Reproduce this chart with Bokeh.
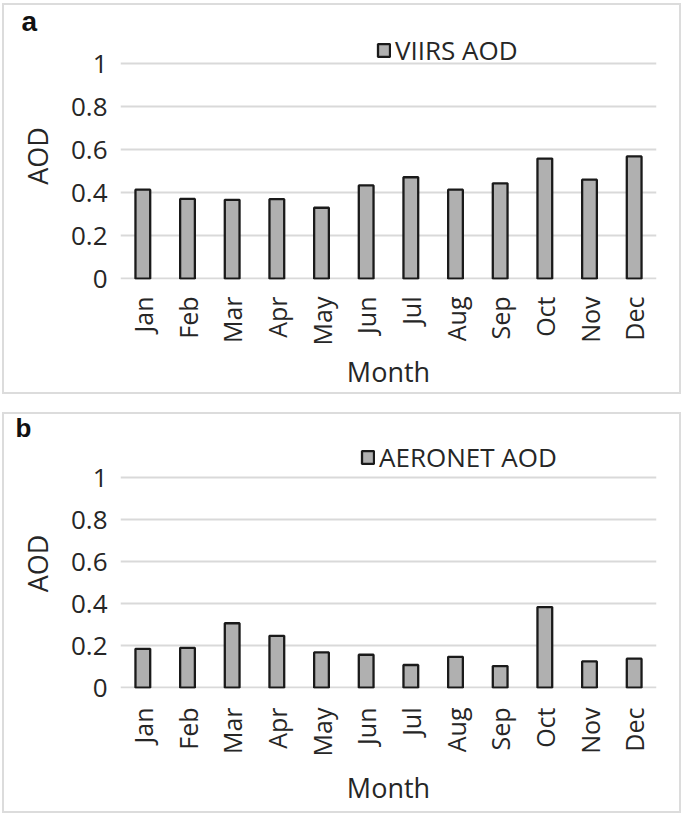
import math
from bokeh.plotting import figure
from bokeh.layouts import column
from bokeh.models import (ColumnDataSource, FactorRange, Range1d, FixedTicker,
                          Legend, LegendItem)
from bokeh.embed import file_html
from bokeh.resources import INLINE

months = ["Jan", "Feb", "Mar", "Apr", "May", "Jun", "Jul", "Aug", "Sep", "Oct", "Nov", "Dec"]
viirs_aod = [0.414, 0.371, 0.367, 0.370, 0.330, 0.434, 0.472, 0.414, 0.444, 0.559, 0.461, 0.569]
aeronet_aod = [0.185, 0.190, 0.307, 0.247, 0.168, 0.157, 0.108, 0.147, 0.103, 0.384, 0.125, 0.138]
y_ticks = [0, 0.2, 0.4, 0.6, 0.8, 1.0]
y_tick_labels = ["0", "0.2", "0.4", "0.6", "0.8", "1"]

FONT = "Open Sans"
TXT = "#262626"
GRID = "#d9d9d9"
BAR_FILL = "#b0b0b0"
BAR_LINE = "#1a1a1a"


def make_panel(values, series_name, letter, h, top, bottom, y_end, title_offset,
               title_standoff, title_size, leg_x, leg_y, x_standoff, xlabel_standoff):
    src = ColumnDataSource(dict(month=months, aod=values))
    p = figure(width=679, height=h, x_range=FactorRange(*months, range_padding=0),
               y_range=Range1d(-0.004, y_end), output_backend="svg",
               toolbar_location=None, tools="",
               min_border_left=116, min_border_right=27, min_border_top=top,
               min_border_bottom=bottom,
               styles={"border": "2px solid #dcdcdc", "box-sizing": "border-box"})
    r = p.vbar(x="month", top="aod", bottom=0, width=0.33, source=src,
               fill_color=BAR_FILL, line_color=BAR_LINE, line_width=2.3)
    p.title.text = letter
    p.title.align = "left"
    p.title.offset = title_offset
    p.title.text_font = "Liberation Sans"
    p.title.text_font_style = "bold"
    p.title.text_font_size = title_size
    p.title.text_color = "#111111"
    p.title.standoff = title_standoff
    p.outline_line_color = None
    p.background_fill_color = "white"
    p.border_fill_color = "white"
    p.xgrid.grid_line_color = None
    p.ygrid.grid_line_color = GRID
    p.ygrid.grid_line_width = 2
    p.yaxis.ticker = FixedTicker(ticks=y_ticks)
    p.yaxis.major_label_overrides = {t: l for t, l in zip(y_ticks, y_tick_labels)}
    for ax in (p.xaxis[0], p.yaxis[0]):
        ax.axis_line_color = None
        ax.major_tick_line_color = None
        ax.minor_tick_line_color = None
        ax.major_tick_out = 0
        ax.major_tick_in = 0
        ax.major_label_text_font = FONT
        ax.major_label_text_color = TXT
        ax.axis_label_text_font = FONT
        ax.axis_label_text_color = TXT
        ax.axis_label_text_font_style = "normal"
    p.yaxis.major_label_text_font_size = "26px"
    p.yaxis.major_label_standoff = 13
    p.yaxis.axis_label = "AOD"
    p.yaxis.axis_label_text_font_size = "27px"
    p.yaxis.axis_label_standoff = 12
    p.xaxis.major_label_orientation = math.pi / 2
    p.xaxis.major_label_text_font_size = "25px"
    p.xaxis.major_label_standoff = x_standoff
    p.xaxis.axis_label = "Month"
    p.xaxis.axis_label_text_font_size = "27px"
    p.xaxis.axis_label_standoff = xlabel_standoff

    legend = Legend(items=[LegendItem(label=series_name, renderers=[r])],
                    location=(leg_x, leg_y), glyph_width=15, glyph_height=16,
                    label_standoff=4, label_text_font=FONT, label_text_font_size="26px",
                    label_text_color=TXT, label_height=16, padding=0, margin=0, spacing=0,
                    border_line_color=None, background_fill_alpha=0)
    p.add_layout(legend, "center")
    return p


pa = make_panel(viirs_aod, "VIIRS AOD", "a", 391, 27, 117, 1.146, -99, -9, "28px",
                256, 211, 17, 5)
pb = make_panel(aeronet_aod, "AERONET AOD", "b", 401, 24, 127, 1.188, -105, -8, "26px",
                240, 213, 19, 10)

layout = column(pa, pb, spacing=18,
                styles={"position": "absolute", "left": "2px", "top": "3px"})

open("out.html", "w").write(file_html(layout, INLINE))
